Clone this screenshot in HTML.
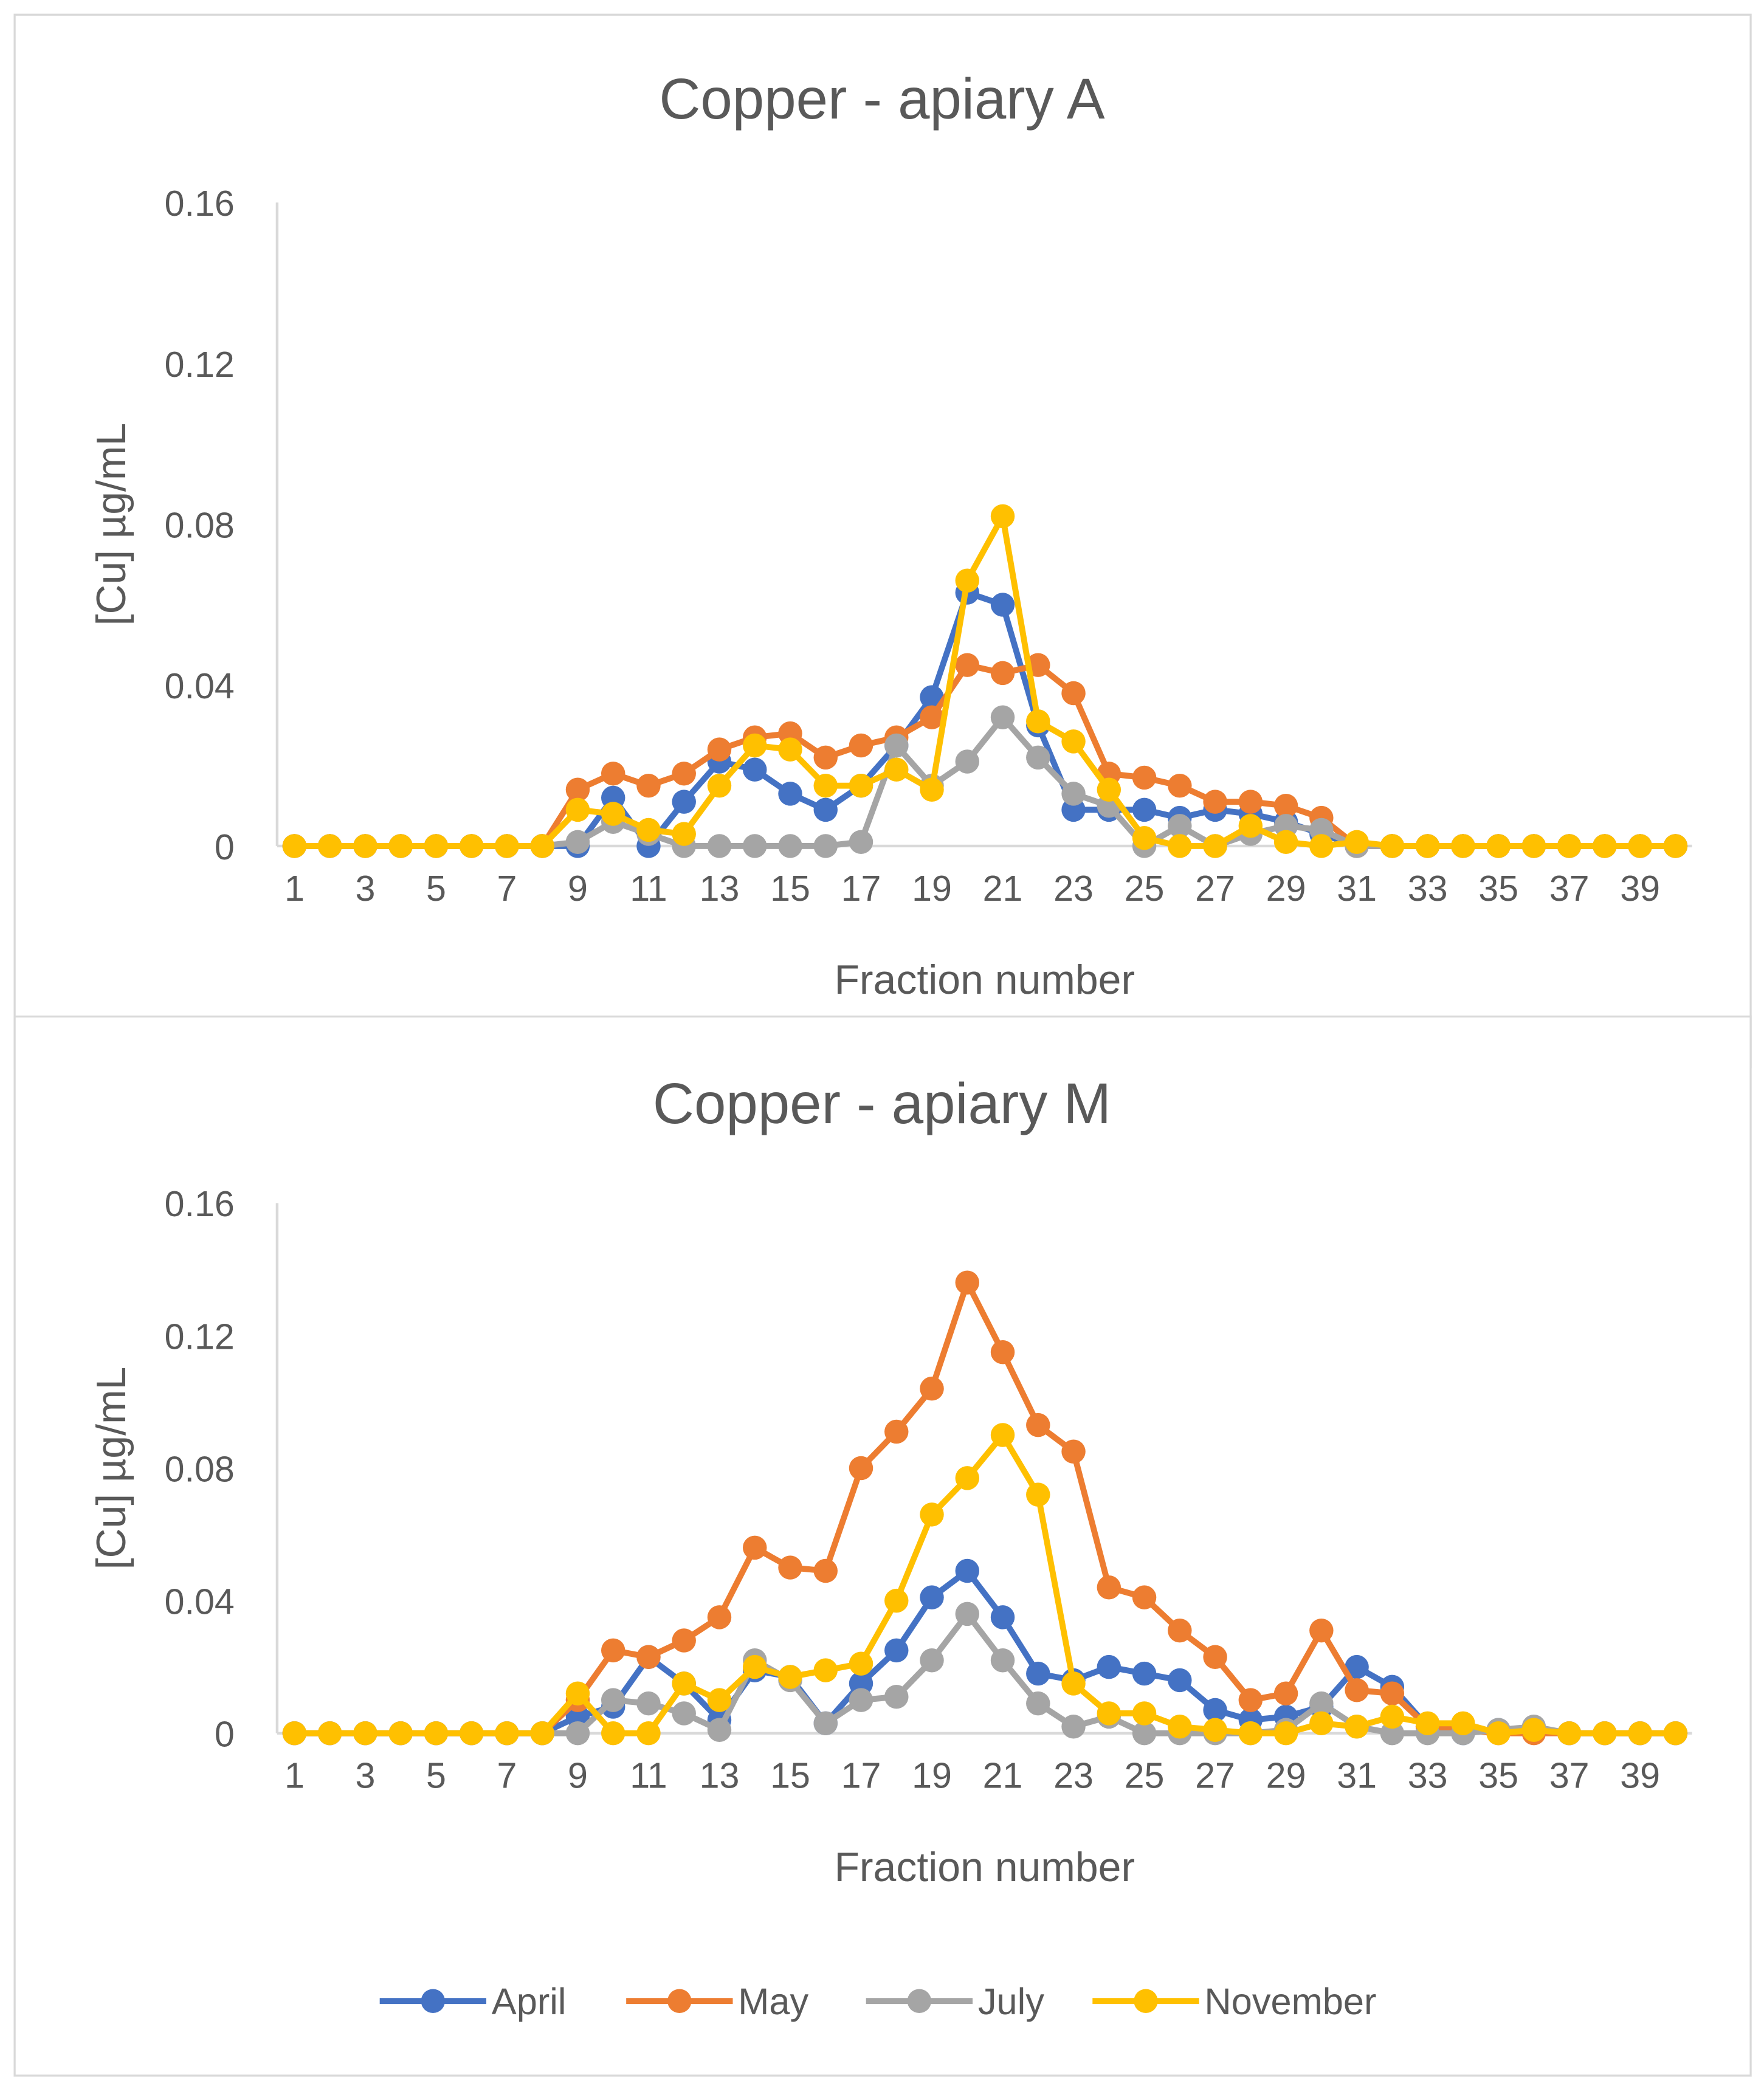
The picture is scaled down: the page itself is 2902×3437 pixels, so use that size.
<!DOCTYPE html>
<html><head><meta charset="utf-8"><style>html,body{margin:0;padding:0;background:#fff}svg{display:block}</style></head>
<body>
<svg id="chart" width="2902" height="3437" viewBox="0 0 1324 1568" xmlns="http://www.w3.org/2000/svg" font-family="'Liberation Sans', sans-serif">
<rect x="0" y="0" width="1324" height="1568" fill="#fff"/>
<rect x="11" y="11" width="1303" height="790" fill="none" stroke="#d9d9d9" stroke-width="1.5"/>
<rect x="11" y="763" width="1303" height="795" fill="#fff" stroke="#d9d9d9" stroke-width="1.5"/>
<g id="ga"></g>
<g id="gb"></g>
<g id="legend"></g>
</svg>
<script>
const seriesNames = ["April","May","July","November"];
const seriesColors = ["#4472C4","#ED7D31","#A5A5A5","#FFC000"];
const yTicks = [0,0.04,0.08,0.12,0.16];
const yTickLabels = ["0","0.04","0.08","0.12","0.16"];
const xTickLabels = ["1","3","5","7","9","11","13","15","17","19","21","23","25","27","29","31","33","35","37","39"];
const z8 = [0,0,0,0,0,0,0,0];
const aprilA = z8.concat([0,0.012,0,0.011,0.021,0.019,0.013,0.009,0.015,0.025,0.037,0.063,0.060,0.030,0.009,0.009,0.009,0.007,0.009,0.008,0.006,0.003,0,0,0,0,0,0,0,0,0,0]);
const mayA = z8.concat([0.014,0.018,0.015,0.018,0.024,0.027,0.028,0.022,0.025,0.027,0.032,0.045,0.043,0.045,0.038,0.018,0.017,0.015,0.011,0.011,0.010,0.007,0,0,0,0,0,0,0,0,0,0]);
const julyA = z8.concat([0.001,0.006,0.003,0,0,0,0,0,0.001,0.025,0.015,0.021,0.032,0.022,0.013,0.010,0,0.005,0,0.003,0.005,0.004,0,0,0,0,0,0,0,0,0,0]);
const novA = z8.concat([0.009,0.008,0.004,0.003,0.015,0.025,0.024,0.015,0.015,0.019,0.014,0.066,0.082,0.031,0.026,0.014,0.002,0,0,0.005,0.001,0,0.001,0,0,0,0,0,0,0,0,0]);
const aprilM = z8.concat([0.005,0.008,0.023,0.015,0.004,0.019,0.017,0.003,0.015,0.025,0.041,0.049,0.035,0.018,0.016,0.020,0.018,0.016,0.007,0.004,0.005,0.008,0.020,0.014,0.002,0,0.001,0.001,0,0,0,0]);
const mayM = z8.concat([0.010,0.025,0.023,0.028,0.035,0.056,0.050,0.049,0.080,0.091,0.104,0.136,0.115,0.093,0.085,0.044,0.041,0.031,0.023,0.010,0.012,0.031,0.013,0.012,0.002,0.001,0,0,0,0,0,0]);
const julyM = z8.concat([0,0.010,0.009,0.006,0.001,0.022,0.016,0.003,0.010,0.011,0.022,0.036,0.022,0.009,0.002,0.005,0,0,0,0,0.001,0.009,0.002,0,0,0,0.001,0.002,0,0,0,0]);
const novM = z8.concat([0.012,0,0,0.015,0.010,0.020,0.017,0.019,0.021,0.040,0.066,0.077,0.090,0.072,0.015,0.006,0.006,0.002,0.001,0,0,0.003,0.002,0.005,0.003,0.003,0,0.001,0,0,0,0]);

const NS="http://www.w3.org/2000/svg";
function mk(tag,attrs,parent){const e=document.createElementNS(NS,tag);for(const k in attrs)e.setAttribute(k,attrs[k]);parent.appendChild(e);return e;}

function drawChart(g,title,y0,y16,titleY,xTitleY,data){
  const xs=i=>221+(i-1)*(1231-221)/38;
  const ys=v=>y0-(v/0.16)*(y0-y16);
  const t=mk('text',{x:662,y:titleY,'text-anchor':'middle','font-size':43,fill:'#595959'},g);t.textContent=title;
  
  
  const ya=mk('line',{x1:208,y1:y16,x2:208,y2:y0,stroke:'#d9d9d9','stroke-width':2},g);
  
  
  const xa=mk('line',{x1:208,y1:y0,x2:1270,y2:y0,stroke:'#d9d9d9','stroke-width':2},g);
  
  
  yTicks.forEach((v,i)=>{const l=mk('text',{x:176,y:ys(v)+10,'text-anchor':'end','font-size':27,fill:'#595959'},g);l.textContent=yTickLabels[i];
    
    });
  xTickLabels.forEach(s=>{const l=mk('text',{x:xs(+s),y:y0+41,'text-anchor':'middle','font-size':27,fill:'#595959'},g);l.textContent=s;
    
    });
  const xt=mk('text',{x:739,y:xTitleY,'text-anchor':'middle','font-size':31,fill:'#595959'},g);xt.textContent='Fraction number';
  
  
  const cy=(y0+y16)/2;
  const yt=mk('text',{x:94,y:cy,'text-anchor':'middle','font-size':31,fill:'#595959',transform:`rotate(-90 94 ${cy})`},g);yt.textContent='[Cu] µg/mL';
  
  
  data.forEach((arr,si)=>{
    const sg=mk('g',{},g);
    
    
    mk('polyline',{points:arr.map((v,i)=>xs(i+1)+','+ys(v)).join(' '),fill:'none',stroke:seriesColors[si],'stroke-width':4.5,'stroke-linejoin':'round'},sg);
    arr.forEach((v,i)=>{const c=mk('circle',{cx:xs(i+1),cy:ys(v),r:9,fill:seriesColors[si]},sg);
      
      });
  });
}
drawChart(document.getElementById('ga'),'Copper - apiary A',635,152,89,746,[aprilA,mayA,julyA,novA]);
drawChart(document.getElementById('gb'),'Copper - apiary M',1301,903,843,1412,[aprilM,mayM,julyM,novM]);
const lg=document.getElementById('legend');
const lx=[285,470,650,820];
seriesNames.forEach((n,i)=>{
  const e=mk('g',{},lg);
  
  
  mk('line',{x1:lx[i],y1:1502,x2:lx[i]+80,y2:1502,stroke:seriesColors[i],'stroke-width':4.5},e);
  mk('circle',{cx:lx[i]+40,cy:1502,r:9,fill:seriesColors[i]},e);
  const t=mk('text',{x:lx[i]+84,y:1512,'font-size':28,fill:'#595959'},e);t.textContent=n;
});
</script>
</body></html>
